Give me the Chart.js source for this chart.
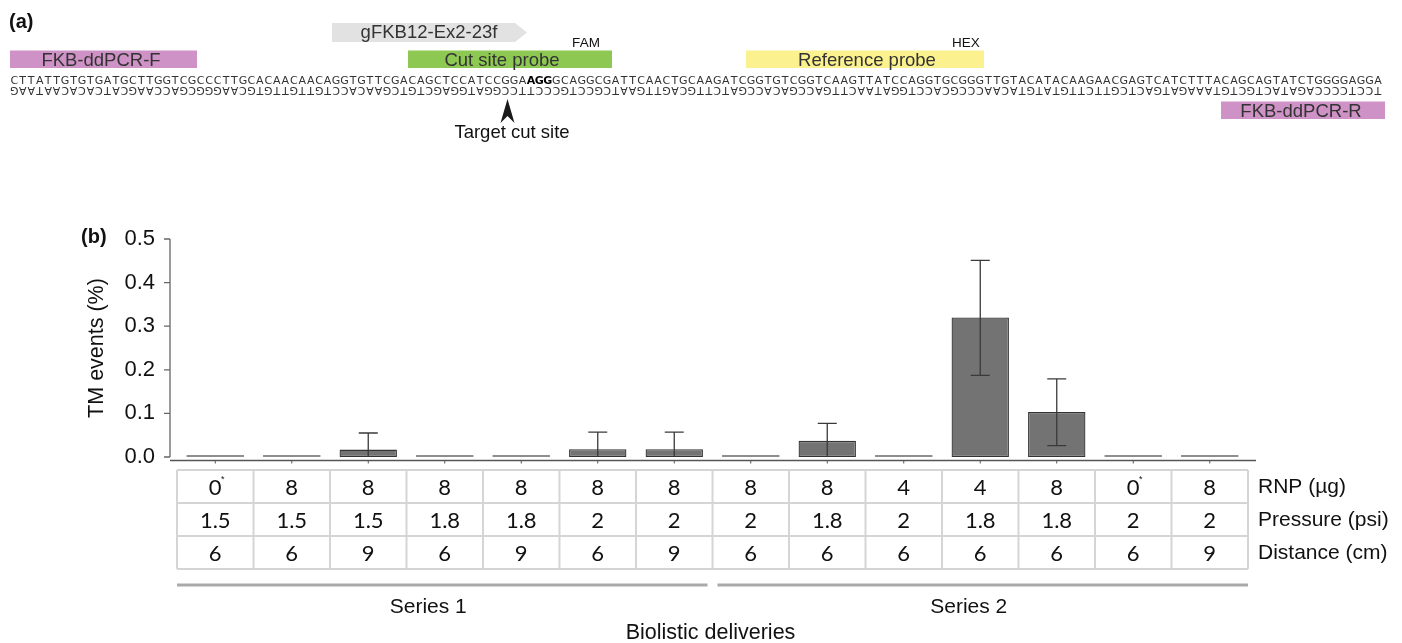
<!DOCTYPE html>
<html lang="en">
<head>
    <meta charset="UTF-8" />
    <title>FKB12 ddPCR – TM events per biolistic delivery</title>
    <script src="https://cdn.jsdelivr.net/npm/chart.js"></script>
    <style>
        html, body { margin: 0; padding: 0; background: #fff; }
        #fig { display: block; }
    </style>
</head>
<body>
<canvas id="fig" width="1402" height="643"></canvas>

<script>
    // Biolistic deliveries (one bar / table column each)
    const deliveries = ['1', '2', '3', '4', '5', '6', '7', '8', '9', '10', '11', '12', '13', '14'];
    const rnpUg = ['0*', '8', '8', '8', '8', '8', '8', '8', '8', '4', '4', '8', '0*', '8'];
    const pressurePsi = ['1.5', '1.5', '1.5', '1.8', '1.8', '2', '2', '2', '1.8', '2', '1.8', '1.8', '2', '2'];
    const distanceCm = ['6', '6', '9', '6', '9', '6', '9', '6', '6', '6', '6', '6', '6', '9'];
    const tableRows = ['RNP (µg)', 'Pressure (psi)', 'Distance (cm)'];

    // TM events (%) - mean and error bar ends (null = no error bar)
    const tmMean = [0, 0, 0.017, 0, 0, 0.018, 0.018, 0, 0.037, 0, 0.32, 0.103, 0, 0];
    const errHigh = [null, null, 0.055, null, null, 0.057, 0.057, null, 0.077, null, 0.451, 0.179, null, null];
    const errLow = [null, null, 0, null, null, 0, 0, null, 0, null, 0.187, 0.026, null, null];

    const yMin = 0, yMax = 0.5, yStep = 0.1;

    // grouping under the table
    const seriesNames = ['Series 1', 'Series 2'];
    const seriesFirst = [0, 7];
    const seriesLast = [6, 13];

    // panel (a) sequence, top strand; bottom strand is its complement
    const topStrand = 'CTTATTGTGTGATGCTTGGTCGCCCTTGCACAACAACAGGTGTTCGACAGCTCCATCCGGAAGGGCAGGCGATTCAACTGCAAGATCGGTGTCGGTCAAGTTATCCAGGTGCGGGTTGTACATACAAGAACGAGTCATCTTTACAGCAGTATCTGGGGAGGA';
    const pamStart = 61, pamLen = 3;

    const SANS = '"Liberation Sans", Arial, Helvetica, sans-serif';
    Chart.defaults.font.family = SANS;
    Chart.defaults.color = '#111';

    const complement = { A: 'T', T: 'A', G: 'C', C: 'G' };

    function drawPanelA(ctx) {
        ctx.save();
        ctx.textBaseline = 'alphabetic';

        ctx.fillStyle = '#111';
        ctx.font = 'bold 20px ' + SANS;
        ctx.textAlign = 'left';
        ctx.fillText('(a)', 9, 28);

        // sgRNA arrow
        ctx.fillStyle = '#e2e2e2';
        ctx.beginPath();
        ctx.moveTo(332, 23); ctx.lineTo(515, 23); ctx.lineTo(527, 32.5);
        ctx.lineTo(515, 42); ctx.lineTo(332, 42); ctx.closePath();
        ctx.fill();

        const boxes = [
            { text: 'FKB-ddPCR-F', x0: 10, x1: 197, y0: 50.5, y1: 68, color: '#cf92c6', tx: 101 },
            { text: 'Cut site probe', x0: 408, x1: 612, y0: 50.5, y1: 68, color: '#8dc852', tx: 502 },
            { text: 'Reference probe', x0: 746, x1: 984, y0: 50.5, y1: 68, color: '#fbf28f', tx: 867 },
            { text: 'FKB-ddPCR-R', x0: 1221, x1: 1385, y0: 101.5, y1: 119, color: '#cf92c6', tx: 1301 }
        ];
        boxes.forEach(b => {
            ctx.fillStyle = b.color;
            ctx.fillRect(b.x0, b.y0, b.x1 - b.x0, b.y1 - b.y0);
        });

        ctx.font = '18.5px ' + SANS;
        ctx.textAlign = 'center';
        ctx.fillStyle = '#333';
        ctx.fillText('gFKB12-Ex2-23f', 429, 38);
        boxes.forEach(b => ctx.fillText(b.text, b.tx, b.y1 - 2));

        ctx.fillStyle = '#111';
        ctx.font = '13.5px ' + SANS;
        ctx.fillText('FAM', 586, 47);
        ctx.fillText('HEX', 966, 47);

        // DNA strands
        const x0 = 10, pitch = 8.47;
        for (let i = 0; i < topStrand.length; i++) {
            const ch = topStrand[i];
            const cx = x0 + (i + 0.5) * pitch;
            const bold = i >= pamStart && i < pamStart + pamLen;
            ctx.font = (bold ? 'bold ' : '') + '11px "DejaVu Sans", Verdana, sans-serif';
            ctx.fillStyle = bold ? '#000' : '#333';
            ctx.fillText(ch, cx, 84);

            ctx.font = '11px "DejaVu Sans", Verdana, sans-serif';
            ctx.fillStyle = '#333';
            ctx.save();
            ctx.translate(cx, 86.5);
            ctx.rotate(Math.PI);
            ctx.fillText(complement[ch], 0, 0);
            ctx.restore();
        }

        // cut site arrowhead
        ctx.fillStyle = '#1a1a1a';
        ctx.beginPath();
        ctx.moveTo(507.5, 99); ctx.lineTo(514.5, 123); ctx.lineTo(507.5, 116);
        ctx.lineTo(500.5, 123); ctx.closePath();
        ctx.fill();

        ctx.fillStyle = '#111';
        ctx.font = '18.5px ' + SANS;
        ctx.fillText('Target cut site', 512, 138);
        ctx.restore();
    }

    const panelA = {
        id: 'panelA',
        afterDraw(chart) { drawPanelA(chart.ctx); }
    };

    // offset axes (y line sits left of the first bar, x line slightly below zero)
    const offsetAxes = {
        id: 'offsetAxes',
        afterDraw(chart) {
            const { ctx, chartArea, scales: { x, y } } = chart;
            ctx.save();
            ctx.strokeStyle = '#666';
            ctx.lineWidth = 1.3;
            const ax = chartArea.left - 7;
            ctx.beginPath();
            ctx.moveTo(ax, y.getPixelForValue(yMax));
            ctx.lineTo(ax, y.getPixelForValue(yMin));
            y.ticks.forEach(t => {
                const py = y.getPixelForValue(t.value);
                ctx.moveTo(ax - 6, py);
                ctx.lineTo(ax, py);
            });
            ctx.stroke();

            const ay = chartArea.bottom + 3.5;
            ctx.strokeStyle = '#555';
            ctx.beginPath();
            ctx.moveTo(ax, ay);
            ctx.lineTo(chartArea.right + 8, ay);
            ctx.stroke();
            ctx.lineWidth = 1;
            ctx.beginPath();
            deliveries.forEach((d, i) => {
                const px = x.getPixelForValue(i);
                ctx.moveTo(px, ay);
                ctx.lineTo(px, ay + 3);
            });
            ctx.stroke();
            ctx.restore();
        }
    };

    const errorBars = {
        id: 'errorBars',
        afterDatasetsDraw(chart) {
            const { ctx, scales: { y } } = chart;
            const meta = chart.getDatasetMeta(0);
            ctx.save();
            ctx.strokeStyle = '#3a3a3a';
            ctx.lineWidth = 1.3;
            const cap = 9.5;
            meta.data.forEach((bar, i) => {
                if (errHigh[i] == null) return;
                const hi = y.getPixelForValue(errHigh[i]);
                const lo = y.getPixelForValue(errLow[i]);
                ctx.beginPath();
                ctx.moveTo(bar.x, lo);
                ctx.lineTo(bar.x, hi);
                ctx.moveTo(bar.x - cap, hi);
                ctx.lineTo(bar.x + cap, hi);
                if (errLow[i] > 0) {
                    ctx.moveTo(bar.x - cap, lo);
                    ctx.lineTo(bar.x + cap, lo);
                }
                ctx.stroke();
            });
            ctx.restore();
        }
    };

    const deliveryTable = {
        id: 'deliveryTable',
        afterDraw(chart) {
            const { ctx, chartArea, scales: { x } } = chart;
            const n = deliveries.length;
            const colW = chartArea.width / n;
            const top = 470, rowH = 33;
            const rows = [rnpUg, pressurePsi, distanceCm];
            const left = x.getPixelForValue(0) - colW / 2;
            const right = x.getPixelForValue(n - 1) + colW / 2;

            ctx.save();
            ctx.strokeStyle = '#d5d5d5';
            ctx.lineWidth = 2;
            ctx.beginPath();
            for (let r = 0; r <= rows.length; r++) {
                ctx.moveTo(left, top + r * rowH);
                ctx.lineTo(right, top + r * rowH);
            }
            for (let c = 0; c <= n; c++) {
                const px = left + c * colW;
                ctx.moveTo(px, top);
                ctx.lineTo(px, top + rows.length * rowH);
            }
            ctx.stroke();

            ctx.fillStyle = '#111';
            ctx.textBaseline = 'middle';
            rows.forEach((row, r) => {
                const cy = top + (r + 0.5) * rowH + 1;
                row.forEach((val, i) => {
                    const px = x.getPixelForValue(i);
                    ctx.textAlign = 'center';
                    ctx.font = '22px Lato, "Open Sans", sans-serif';
                    if (val.endsWith('*')) {
                        ctx.fillText(val.slice(0, -1), px, cy);
                        ctx.font = '9px ' + SANS;
                        ctx.fillText('*', px + 7.5, cy - 8);
                    } else {
                        ctx.fillText(val, px, cy);
                    }
                });
                ctx.textAlign = 'left';
                ctx.font = '21px ' + SANS;
                ctx.fillText(tableRows[r], right + 10, cy);
            });

            // series brackets
            ctx.strokeStyle = '#a9a9a9';
            ctx.lineWidth = 3;
            ctx.textAlign = 'center';
            ctx.textBaseline = 'alphabetic';
            ctx.font = '21px ' + SANS;
            seriesNames.forEach((name, s) => {
                const a = x.getPixelForValue(seriesFirst[s]) - colW / 2 + (seriesFirst[s] > 0 ? 5 : 0);
                const b = x.getPixelForValue(seriesLast[s]) + colW / 2 - (seriesLast[s] < n - 1 ? 5 : 0);
                ctx.beginPath();
                ctx.moveTo(a, 585);
                ctx.lineTo(b, 585);
                ctx.stroke();
                ctx.fillText(name, (a + b) / 2 - 14, 613);
            });

            ctx.font = '21.5px ' + SANS;
            ctx.fillText('Biolistic deliveries', (left + right) / 2 - 2, 639);

            ctx.textAlign = 'left';
            ctx.font = 'bold 20px ' + SANS;
            ctx.fillText('(b)', 81, 243);
            ctx.restore();
        }
    };

    const ctx = document.getElementById('fig').getContext('2d');
    new Chart(ctx, {
        type: 'bar',
        data: {
            labels: deliveries,
            datasets: [{
                label: 'TM events (%)',
                data: tmMean,
                backgroundColor: tmMean.map(v => v > 0 ? '#737373' : '#8e8e8e'),
                borderColor: tmMean.map(v => v > 0 ? '#343434' : '#8e8e8e'),
                borderWidth: tmMean.map(v => v > 0 ? 1.3 : 0),
                borderSkipped: false,
                minBarLength: 2,
                barPercentage: 0.75,
                categoryPercentage: 1
            }]
        },
        options: {
            responsive: false,
            animation: false,
            layout: { padding: { top: 239, bottom: 186, left: 0, right: 154 } },
            plugins: {
                legend: { display: false },
                tooltip: { enabled: false }
            },
            scales: {
                x: { display: false },
                y: {
                    min: yMin,
                    max: yMax,
                    ticks: {
                        stepSize: yStep,
                        padding: 22,
                        color: '#111',
                        font: { size: 22 },
                        callback: v => v.toFixed(1)
                    },
                    grid: { display: false, drawTicks: false },
                    border: { display: false },
                    title: {
                        display: true,
                        text: 'TM events (%)',
                        color: '#111',
                        font: { size: 21.5 },
                        padding: { top: 84, bottom: 0 }
                    },
                    afterFit: scale => { scale.width = 177; }
                }
            }
        },
        plugins: [panelA, offsetAxes, errorBars, deliveryTable]
    });
</script>
</body>
</html>
